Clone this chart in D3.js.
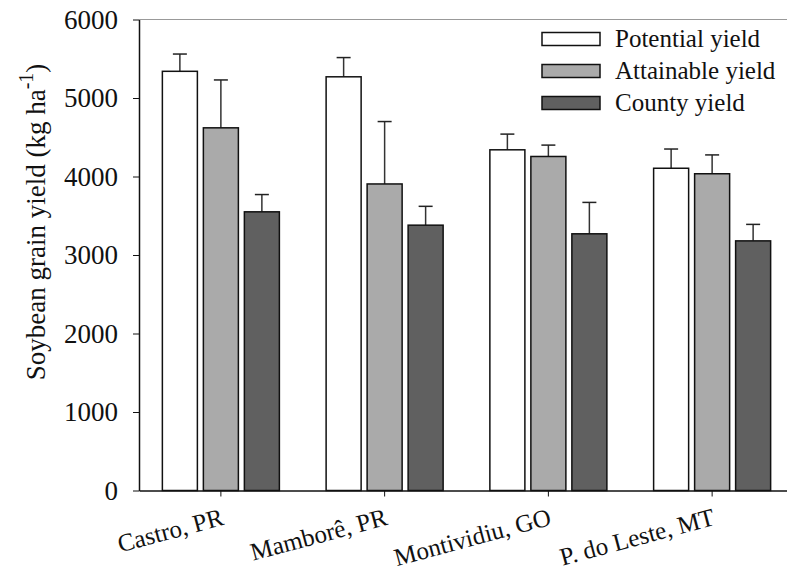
<!DOCTYPE html>
<html>
<head>
<meta charset="utf-8">
<script src="https://cdn.jsdelivr.net/npm/d3@7"></script>
<style>
  body { margin: 0; background: #fff; }
  text { font-family: "Liberation Serif", "Times New Roman", serif; fill: #111; }
</style>
</head>
<body>
<div id="chart"></div>
<script>
// data
var sites = ["Castro, PR", "Mamborê, PR", "Montividiu, GO", "P. do Leste, MT"];
var series = ["Potential yield", "Attainable yield", "County yield"];
var potential = [5340, 5270, 4340, 4105];
var attainable = [4620, 3905, 4255, 4035];
var county = [3550, 3380, 3270, 3180];
var potentialErr = [220, 245, 200, 245];
var attainableErr = [610, 795, 145, 240];
var countyErr = [220, 240, 400, 210];
var yTicks = [0, 1000, 2000, 3000, 4000, 5000, 6000];

var colors = ["#ffffff", "#aaaaaa", "#606060"];

var rows = [];
sites.forEach(function(s, i) {
  rows.push({site: s, key: series[0], value: potential[i], err: potentialErr[i]});
  rows.push({site: s, key: series[1], value: attainable[i], err: attainableErr[i]});
  rows.push({site: s, key: series[2], value: county[i], err: countyErr[i]});
});

var width = 787, height = 572;
var plotLeft = 139, plotTop = 19.5, plotBottom = 490.5, plotRight = 794;

var svg = d3.select("#chart")
  .append("svg")
  .attr("width", width)
  .attr("height", height);

// scales
var x0 = d3.scaleBand()
  .domain(sites)
  .range([plotLeft, plotRight])
  .padding(0);

var x1 = d3.scaleBand()
  .domain(series)
  .range([0, x0.bandwidth()])
  .paddingInner(0.146)
  .paddingOuter(0.57);

var y = d3.scaleLinear()
  .domain([0, 6000])
  .range([plotBottom, plotTop]);

var color = d3.scaleOrdinal().domain(series).range(colors);

// top frame line
svg.append("line")
  .attr("x1", plotLeft).attr("x2", width)
  .attr("y1", y(6000)).attr("y2", y(6000))
  .attr("stroke", "#999")
  .attr("stroke-width", 1);

// error bars (upper only)
var errs = svg.append("g");
errs.selectAll("line.stem")
  .data(rows)
  .enter()
  .append("line")
    .attr("x1", function(d) { return x0(d.site) + x1(d.key) + x1.bandwidth() / 2; })
    .attr("x2", function(d) { return x0(d.site) + x1(d.key) + x1.bandwidth() / 2; })
    .attr("y1", function(d) { return y(d.value); })
    .attr("y2", function(d) { return y(d.value + d.err); })
    .attr("stroke", "#333")
    .attr("stroke-width", 1.5);
errs.selectAll("line.cap")
  .data(rows)
  .enter()
  .append("line")
    .attr("x1", function(d) { return x0(d.site) + x1(d.key) + x1.bandwidth() / 2 - 7; })
    .attr("x2", function(d) { return x0(d.site) + x1(d.key) + x1.bandwidth() / 2 + 7; })
    .attr("y1", function(d) { return y(d.value + d.err); })
    .attr("y2", function(d) { return y(d.value + d.err); })
    .attr("stroke", "#222")
    .attr("stroke-width", 1.5);

// bars
svg.append("g")
  .selectAll("rect")
  .data(rows)
  .enter()
  .append("rect")
    .attr("x", function(d) { return x0(d.site) + x1(d.key); })
    .attr("y", function(d) { return y(d.value); })
    .attr("width", x1.bandwidth())
    .attr("height", function(d) { return y(0) - y(d.value); })
    .attr("fill", function(d) { return color(d.key); })
    .attr("stroke", "#111")
    .attr("stroke-width", 1.5);

// y axis
var yAxis = svg.append("g")
  .attr("transform", "translate(" + plotLeft + ",0)")
  .call(d3.axisLeft(y).tickValues(yTicks).tickFormat(d3.format("d")).tickSize(6).tickPadding(15).tickSizeOuter(0));
yAxis.select(".domain").attr("stroke", "#111").attr("stroke-width", 1.5);
yAxis.selectAll(".tick line").attr("stroke", "#111");
yAxis.selectAll("text").attr("font-size", 27).attr("font-family", "Liberation Serif").attr("fill", "#111");

// x axis
var xAxis = svg.append("g")
  .attr("transform", "translate(0," + plotBottom + ")")
  .call(d3.axisBottom(x0).tickSize(6).tickSizeOuter(0));
xAxis.select(".domain").attr("stroke", "#111").attr("stroke-width", 1.5);
xAxis.selectAll(".tick line").attr("stroke", "#111");
xAxis.selectAll("text")
  .attr("font-size", 25)
  .attr("font-family", "Liberation Serif")
  .attr("fill", "#111")
  .attr("text-anchor", "end")
  .attr("x", 0).attr("y", 0).attr("dy", 0)
  .attr("transform", "translate(4,34) rotate(-15)");

// y title
var title = svg.append("text")
  .attr("transform", "rotate(-90)")
  .attr("x", -222)
  .attr("y", 45)
  .attr("text-anchor", "middle")
  .attr("font-size", 27);
title.append("tspan").text("Soybean grain yield (kg ha");
title.append("tspan").attr("dy", -12).attr("font-size", 20).text("-1");
title.append("tspan").attr("dy", 12).text(")");

// legend
var legend = svg.append("g")
  .selectAll("g")
  .data(series)
  .enter()
  .append("g")
  .attr("transform", function(d, i) { return "translate(542," + (39 + i * 32) + ")"; });

legend.append("rect")
  .attr("x", 0).attr("y", -6.5)
  .attr("width", 58).attr("height", 13)
  .attr("fill", function(d) { return color(d); })
  .attr("stroke", "#111")
  .attr("stroke-width", 1.5);

legend.append("text")
  .attr("x", 73)
  .attr("y", 8)
  .attr("font-size", 25)
  .text(function(d) { return d; });
</script>
</body>
</html>
